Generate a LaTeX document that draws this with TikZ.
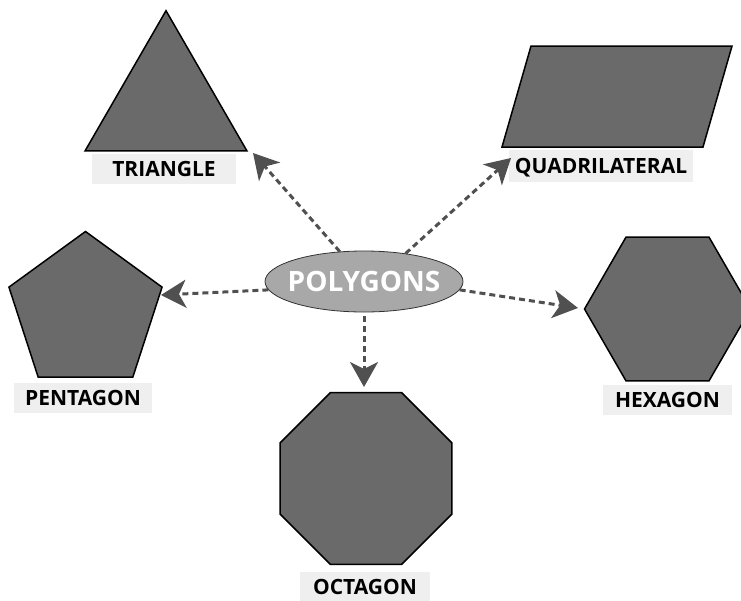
\documentclass[tikz,border=0pt]{standalone}
\usepackage{fontspec}
\setmainfont{Open Sans}
\usetikzlibrary{shapes.geometric,arrows.meta}
\definecolor{shapegray}{RGB}{106,106,106}
\definecolor{lblgray}{RGB}{239,239,239}
\definecolor{hubgray}{RGB}{168,168,168}
\definecolor{arrowgray}{RGB}{80,80,80}

\begin{document}
\begin{tikzpicture}[x=1pt,y=-1pt,
    polyshape/.style={draw=black, line width=1.5pt, fill=shapegray, inner sep=0pt},
    lbl/.style={fill=lblgray, font=\bfseries\fontsize{21}{25}\selectfont, inner sep=0pt, text depth=0pt},
    link/.style={arrowgray, line width=3pt, dash pattern=on 6pt off 4pt,
        -{Stealth[length=25pt,width=28pt,inset=7pt]}}]
\useasboundingbox (0,0) rectangle (741,600);

% Hub
\node[ellipse, draw=black!80, line width=0.8pt, fill=hubgray,
    minimum width=198pt, minimum height=61pt, inner sep=0pt] (poly) at (364,281.5) {};
\node[text=white, font=\bfseries\fontsize{28}{32}\selectfont] (poly-txt) at (poly) {POLYGONS};

% Shapes
\node[polyshape, regular polygon, regular polygon sides=3, minimum size=187pt] (tri) at (166,104.2) {};
\draw[polyshape] (531,46) -- (732,46) -- (703,147) -- (502,147) -- cycle;
\node[polyshape, regular polygon, regular polygon sides=5, minimum size=161pt] (penta) at (85.5,312) {};
\node[polyshape, regular polygon, regular polygon sides=6, minimum size=166pt] (hexa) at (667.5,309) {};
\node[polyshape, regular polygon, regular polygon sides=8, minimum size=186pt] (octa) at (366,478.5) {};

% Labels
\node[lbl, minimum width=144pt, minimum height=30pt] (tri-lbl) at (164,169) {TRIANGLE};
\node[lbl, minimum width=184pt, minimum height=32pt] (quad-lbl) at (601,166) {QUADRILATERAL};
\node[lbl, minimum width=138pt, minimum height=30pt] (penta-lbl) at (83,398) {PENTAGON};
\node[lbl, minimum width=129pt, minimum height=30pt] (hexa-lbl) at (667.5,400) {HEXAGON};
\node[lbl, minimum width=130pt, minimum height=30pt] (octa-lbl) at (365,587) {OCTAGON};

% Arrow ends
\coordinate (tri-end) at (253,153);
\coordinate (quad-end) at (511,158);
\coordinate (penta-end) at (161,295);
\coordinate (hexa-end) at (578,308);
\coordinate (octa-end) at (364,387);

% Links
\draw[link] (poly.129) -- (tri-end);
\draw[link] (poly.34) -- (quad-end);
\draw[link] (poly.185) -- (penta-end);
\draw[link] (poly.-5) -- (hexa-end);
\draw[link, shorten <=4pt] (poly.south) -- (octa-end);
\end{tikzpicture}
\end{document}
